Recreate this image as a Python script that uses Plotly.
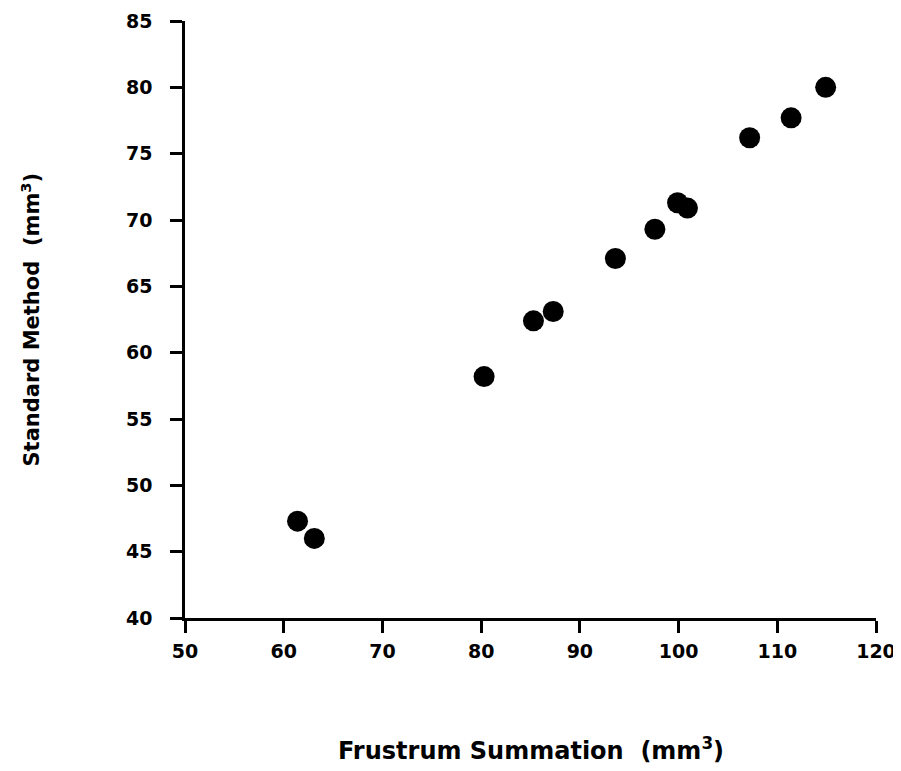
import plotly.graph_objects as go

frustrum = [61.4, 63.1, 80.3, 85.3, 87.3, 93.6, 97.6, 99.9, 100.9, 107.2, 111.4, 114.9]
standard = [47.3, 46.0, 58.2, 62.4, 63.1, 67.1, 69.3, 71.3, 70.9, 76.2, 77.7, 80.0]

x_ticks = [50, 60, 70, 80, 90, 100, 110, 120]
y_ticks = [40, 45, 50, 55, 60, 65, 70, 75, 80, 85]

FONT = "DejaVu Sans"

fig = go.Figure()
fig.add_trace(go.Scatter(
    x=frustrum, y=standard, mode="markers",
    marker=dict(color="black", size=21, line=dict(width=0)),
    showlegend=False, cliponaxis=False,
))

axis_common = dict(
    showgrid=False, zeroline=False, showline=True, linecolor="black", linewidth=2.5,
    ticks="outside", ticklen=12, tickwidth=2.5, tickcolor="black", automargin=False,
    tickfont=dict(family=FONT, size=19, color="black", weight="bold"),
)
fig.update_xaxes(range=[50, 120], tickvals=x_ticks, ticktext=[str(v) for v in x_ticks],
                 ticklabelstandoff=2, **axis_common)
fig.update_yaxes(range=[40, 85], tickvals=y_ticks, ticktext=[str(v) for v in y_ticks],
                 ticklabelstandoff=14, **axis_common)

fig.add_annotation(
    text="<b>Frustrum Summation  (mm<sup>3</sup>)</b>", xref="paper", yref="paper",
    x=0.5, y=0, xanchor="center", yanchor="middle", yshift=-131, showarrow=False,
    font=dict(family=FONT, size=24, color="black"),
)
fig.add_annotation(
    text="<b>Standard Method  (mm<sup>3</sup>)</b>", xref="paper", yref="paper",
    x=0, y=0.5, xanchor="center", yanchor="middle", xshift=-155, textangle=-90, showarrow=False,
    font=dict(family=FONT, size=21, color="black"),
)

fig.update_layout(
    width=893, height=763,
    margin=dict(l=177, r=25, t=13, b=153, autoexpand=False),
    plot_bgcolor="white", paper_bgcolor="white",
)
fig.write_html("out.html")
